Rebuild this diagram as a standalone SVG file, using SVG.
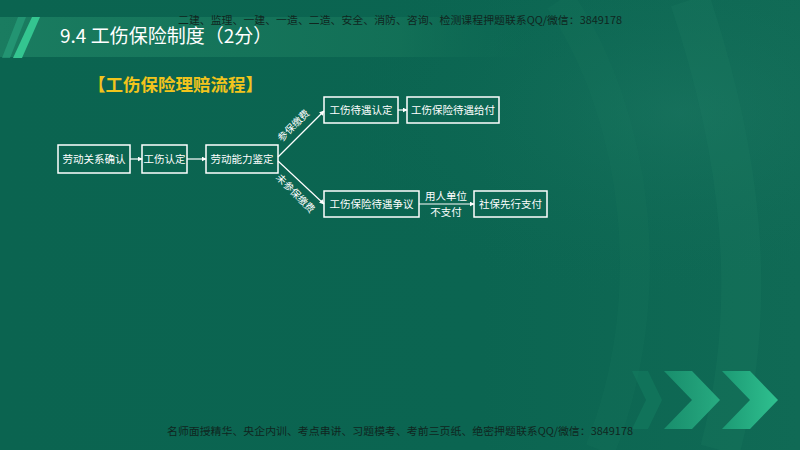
<svg xmlns="http://www.w3.org/2000/svg" width="800" height="450" viewBox="0 0 800 450">
<defs>
<linearGradient id="bg" x1="0" y1="0" x2="1" y2="0">
<stop offset="0" stop-color="#0b6450"/>
<stop offset="0.6" stop-color="#0b6551"/>
<stop offset="1" stop-color="#106a55"/>
</linearGradient>
<radialGradient id="glow" cx="0.85" cy="0.25" r="0.45">
<stop offset="0" stop-color="#24806a" stop-opacity="0.35"/>
<stop offset="1" stop-color="#0b6652" stop-opacity="0"/>
</radialGradient>
<linearGradient id="band" x1="0" y1="0" x2="1" y2="0">
<stop offset="0" stop-color="#1a7c60"/>
<stop offset="0.7" stop-color="#147258" stop-opacity="0.8"/>
<stop offset="1" stop-color="#0b6652" stop-opacity="0"/>
</linearGradient>
<linearGradient id="chev" x1="0" y1="0" x2="1" y2="0">
<stop offset="0" stop-color="#1c9a74"/>
<stop offset="1" stop-color="#2fc08f"/>
</linearGradient>
<marker id="ah" viewBox="0 0 8 8" refX="7" refY="4" markerWidth="5" markerHeight="5" orient="auto" markerUnits="userSpaceOnUse">
<path d="M0,0 L8,4 L0,8 Z" fill="#ffffff"/>
</marker>
<style>
.box{fill:none;stroke:#ffffff;stroke-width:1.5}
.bt{font-family:"Liberation Serif","Noto Sans CJK SC",serif;font-size:10.5px;fill:#ffffff;text-anchor:middle}
.lbl{font-family:"Liberation Serif","Noto Sans CJK SC",serif;font-size:10px;fill:#ffffff;text-anchor:middle}
.ln{stroke:#ffffff;stroke-width:1.2;fill:none;marker-end:url(#ah)}
.wm{font-family:"Noto Sans CJK SC",sans-serif;font-size:10.5px;fill:#10261f}
</style>
</defs>
<rect width="800" height="450" fill="url(#bg)"/>
<rect width="800" height="450" fill="url(#glow)"/>
<path d="M560,0 C640,120 660,300 600,450" fill="none" stroke="#1a7860" stroke-opacity="0.18" stroke-width="30"/>
<path d="M690,0 C740,150 760,300 720,450" fill="none" stroke="#1f7f66" stroke-opacity="0.22" stroke-width="40"/>
<!-- header band -->
<rect x="0" y="17" width="570" height="40" fill="url(#band)"/>
<polygon points="18,17 26,17 10,58 2,58" fill="#2aa57e" opacity="0.6"/>
<polygon points="32,17 40,17 22,58 13,58" fill="#34c590"/>
<text x="60" y="43" font-family="'Noto Sans CJK SC',sans-serif" font-size="19" fill="#ffffff">9.4 工伤保险制度（2分）</text>
<text class="wm" x="178" y="24" textLength="444" lengthAdjust="spacingAndGlyphs">二建、监理、一建、一造、二造、安全、消防、咨询、检测课程押题联系QQ/微信：3849178</text>
<text x="88" y="91" font-family="'Noto Sans CJK SC',sans-serif" font-size="17.5" font-weight="bold" fill="#f2c41c">【工伤保险理赔流程】</text>
<!-- chevrons -->
<polygon points="632,371 648,371 662,400 648,429 632,429 646,400" fill="#178a68" opacity="0.35"/>
<polygon points="664,371 692,371 720,400 692,429 664,429 692,400" fill="url(#chev)" opacity="0.75"/>
<polygon points="722,371 750,371 778,400 750,429 722,429 750,400" fill="url(#chev)"/>
<text class="wm" x="167" y="435" textLength="466" lengthAdjust="spacingAndGlyphs">名师面授精华、央企内训、考点串讲、习题模考、考前三页纸、绝密押题联系QQ/微信：3849178</text>
<!-- connectors -->
<g id="connectors">
<line class="ln" x1="130" y1="159" x2="142" y2="159"/>
<line class="ln" x1="187" y1="159" x2="206" y2="159"/>
<line class="ln" x1="278" y1="157" x2="324" y2="111"/>
<line class="ln" x1="278" y1="161" x2="324" y2="204"/>
<line class="ln" x1="398" y1="110" x2="407" y2="110"/>
<line class="ln" x1="419" y1="204" x2="474" y2="204"/>
<text class="lbl" transform="translate(296,128) rotate(-45)">参保缴费</text>
<text class="lbl" transform="translate(293,196) rotate(45)">未参保缴费</text>
<text class="bt" x="446" y="200">用人单位</text>
<text class="bt" x="446" y="216">不支付</text>
</g>
<g id="n1"><rect class="box" x="58" y="145" width="72" height="28"/><text class="bt" x="94" y="163">劳动关系确认</text></g>
<g id="n2"><rect class="box" x="142" y="145" width="45" height="28"/><text class="bt" x="164.5" y="163">工伤认定</text></g>
<g id="n3"><rect class="box" x="206" y="145" width="72" height="28"/><text class="bt" x="242" y="163">劳动能力鉴定</text></g>
<g id="n4"><rect class="box" x="324" y="97" width="74" height="26"/><text class="bt" x="361" y="114">工伤待遇认定</text></g>
<g id="n5"><rect class="box" x="407" y="97" width="92" height="26"/><text class="bt" x="453" y="114">工伤保险待遇给付</text></g>
<g id="n6"><rect class="box" x="324" y="191" width="95" height="26"/><text class="bt" x="371.5" y="208">工伤保险待遇争议</text></g>
<g id="n7"><rect class="box" x="474" y="191" width="73" height="26"/><text class="bt" x="510.5" y="208">社保先行支付</text></g>
</svg>
